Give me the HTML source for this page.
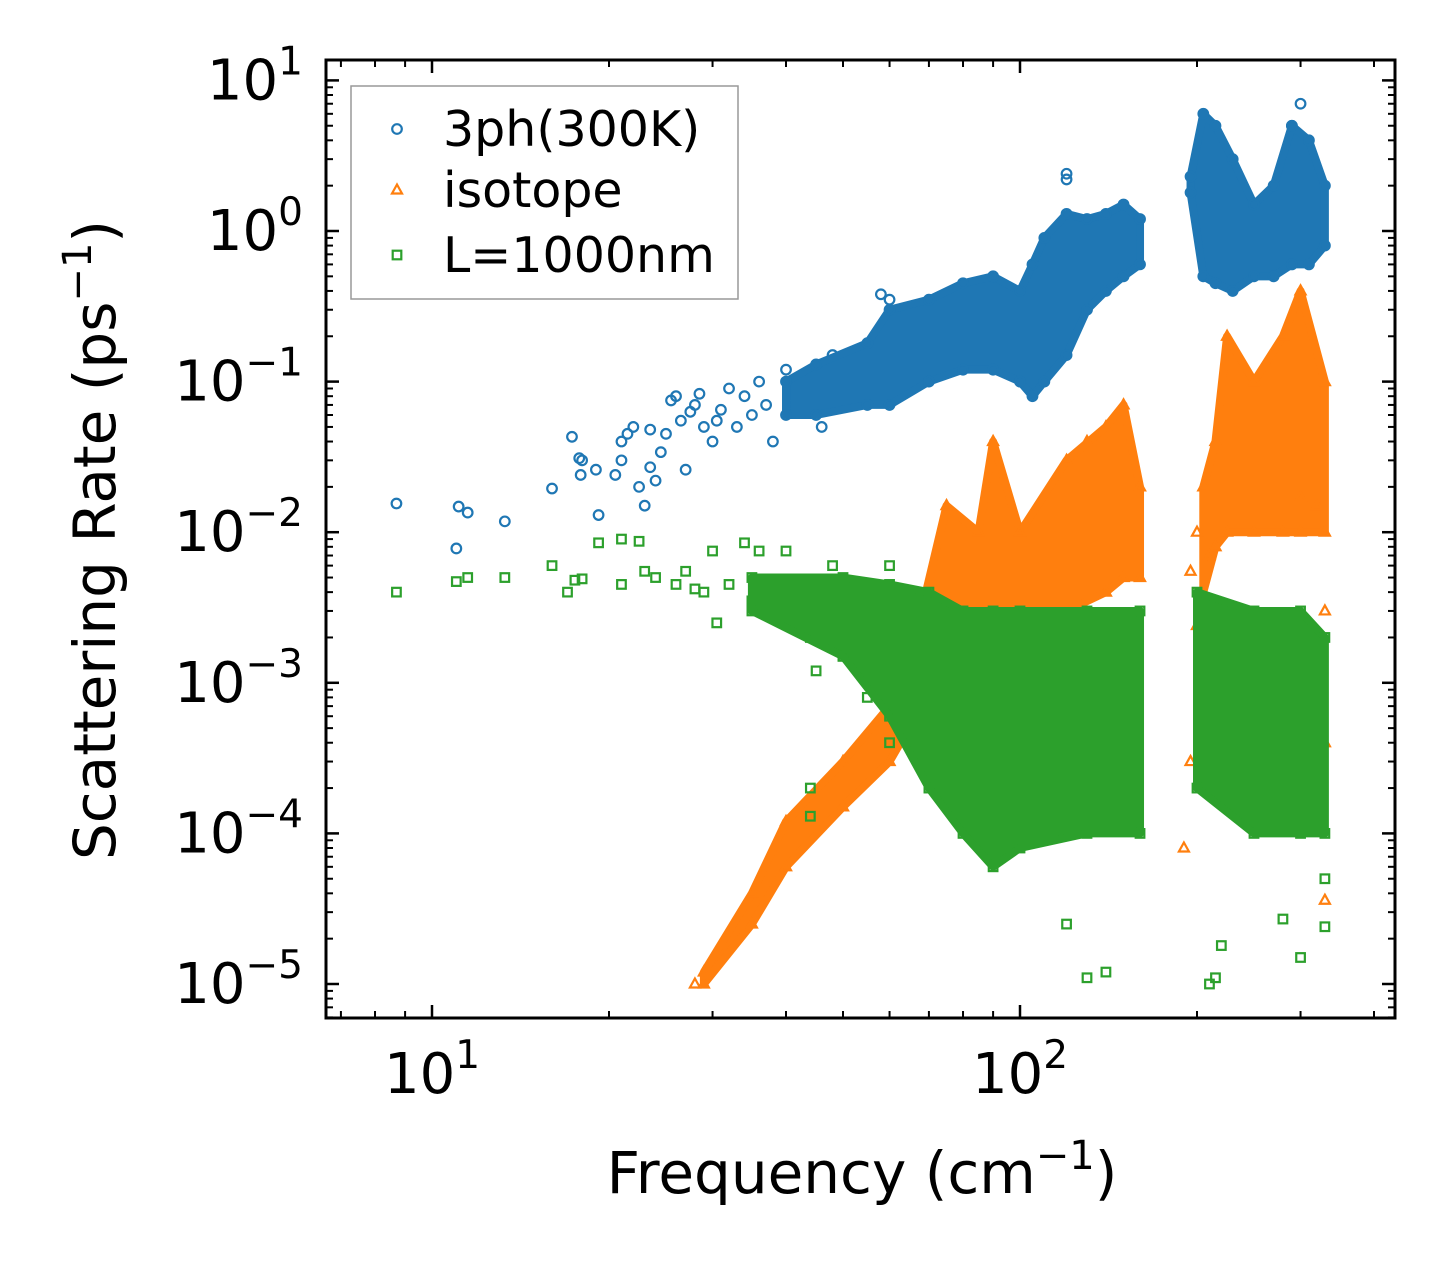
<!DOCTYPE html>
<html><head><meta charset="utf-8"><style>
html,body{margin:0;padding:0;background:#fff;}
svg{display:block;font-family:"DejaVu Sans","Liberation Sans",sans-serif;}
</style></head><body>
<svg id="chart" width="1455" height="1267" viewBox="0 0 1455 1267"></svg>
<script>
// ---- data ----
const blueSparse = [[8.7,0.0155],[11,0.0078],[11.1,0.0148],[11.5,0.0135],[13.3,0.0118],[16,0.0195],[17.3,0.043],[17.8,0.031],[17.9,0.024],[18,0.03],[19,0.026],[19.2,0.013],[20.5,0.024],[21,0.03],[21,0.04],[21.5,0.045],[22,0.05],[22.5,0.02],[23,0.015],[23.5,0.027],[23.5,0.048],[24,0.022],[24.5,0.034],[25,0.045],[25.5,0.075],[26,0.08],[26.5,0.055],[27,0.026],[27.5,0.063],[28,0.07],[28.5,0.083],[29,0.05],[30,0.04],[30.5,0.055],[31,0.065],[32,0.09],[33,0.05],[34,0.08],[35,0.06],[36,0.1],[37,0.07],[38,0.04],[40,0.12],[42,0.08],[44,0.065],[46,0.05],[48,0.15],[58,0.38],[60,0.35],[120,2.4],[120,2.2],[300,7],[290,5]];
const blueBandA = [[40,0.06,0.1],[45,0.06,0.13],[55,0.07,0.18],[60,0.07,0.3],[70,0.1,0.35],[80,0.12,0.45],[90,0.12,0.5],[100,0.1,0.4],[105,0.08,0.6],[110,0.1,0.9],[120,0.15,1.3],[130,0.3,1.2],[140,0.4,1.3],[150,0.5,1.5],[160,0.6,1.2]];
const blueBandB = [[195,1.8,2.3],[205,0.5,6],[215,0.45,5],[230,0.4,3],[250,0.5,1.5],[270,0.5,2],[290,0.6,5],[310,0.6,4],[330,0.8,2]];
const orangeSparse = [[28,1e-5],[190,8e-5],[195,3e-4],[200,2.4e-3],[195,5.5e-3],[200,1e-2],[210,7e-3],[330,3.6e-5],[330,4e-4],[330,3e-3],[320,1.5e-2],[300,1.7e-2],[130,4e-2]];
const orangeBandA = [[29,1e-5,1.2e-5],[35,2.5e-5,4e-5],[40,6e-5,1.2e-4],[50,1.5e-4,3e-4],[60,3e-4,7e-4],[68,7e-4,3e-3],[75,1.5e-3,1.5e-2],[85,2e-3,1e-2],[90,2e-3,4e-2],[100,3e-3,1e-2],[120,3e-3,3e-2],[140,4e-3,5e-2],[150,5e-3,7e-2],[160,5e-3,2e-2]];
const orangeBandB = [[205,4e-3,2e-2],[215,8e-3,4e-2],[225,1e-2,2e-1],[250,1e-2,1e-1],[280,1e-2,2e-1],[300,1e-2,4e-1],[330,1e-2,1e-1]];
const greenSparse = [[8.7,4e-3],[11,4.7e-3],[11.5,5e-3],[13.3,5e-3],[16,6e-3],[17,4e-3],[17.5,4.8e-3],[18,4.9e-3],[19.2,8.5e-3],[21,9e-3],[21,4.5e-3],[22.5,8.7e-3],[23,5.5e-3],[24,5e-3],[26,4.5e-3],[27,5.5e-3],[28,4.2e-3],[29,4e-3],[30,7.5e-3],[30.5,2.5e-3],[32,4.5e-3],[34,8.5e-3],[35,3.5e-3],[36,7.5e-3],[38,4.5e-3],[40,7.5e-3],[42,3e-3],[44,2e-3],[45,1.2e-3],[48,6e-3],[50,1.5e-3],[55,8e-4],[56,1.2e-3],[44,2e-4],[44,1.3e-4],[60,6e-3],[60,4e-4],[130,1.1e-5],[140,1.2e-5],[210,1e-5],[215,1.1e-5],[220,1.8e-5],[300,1.5e-5],[280,2.7e-5],[330,2.4e-5],[330,5e-5],[120,2.5e-5]];
const greenBandA = [[35,3e-3,5e-3],[50,1.5e-3,5e-3],[60,6e-4,4.5e-3],[70,2e-4,4e-3],[80,1e-4,3e-3],[90,6e-5,3e-3],[100,8e-5,3e-3],[130,1e-4,3e-3],[160,1e-4,3e-3]];
const greenBandB = [[200,2e-4,4e-3],[250,1e-4,3e-3],[300,1e-4,3e-3],[330,1e-4,2e-3]];
const xTickLabels = [{v:10,e:'1'},{v:100,e:'2'}];
const yTickExps = [1,0,-1,-2,-3,-4,-5];
// ---- axes ----
const L=326,R=1395,T=60,B=1018;
const X0=432, XD=588;
const Y0=231, YD=150.6;
const xs=v=>X0+(Math.log10(v)-1)*XD;
const ys=v=>Y0-Math.log10(v)*YD;
const NS='http://www.w3.org/2000/svg';
const svg=document.getElementById('chart');
function mk(tag,attrs,parent){const e=document.createElementNS(NS,tag);for(const k in attrs)e.setAttribute(k,attrs[k]);(parent||svg).appendChild(e);return e;}
const colors={blue:'#1f77b4',orange:'#ff7f0e',green:'#2ca02c'};
const clip=mk('clipPath',{id:'pc'});mk('rect',{x:L,y:T,width:R-L,height:B-T},clip);
const plot=mk('g',{'clip-path':'url(#pc)'});


function marker(kind,x,y,g){
  const c=colors[kind];
  if(kind==='blue') return mk('circle',{cx:x,cy:y,r:4.8,fill:'none',stroke:c,'stroke-width':2.2},g);
  if(kind==='orange') return mk('path',{d:`M${x},${y-5.5}L${x+5},${y+3.5}L${x-5},${y+3.5}Z`,fill:'none',stroke:c,'stroke-width':2.2},g);
  return mk('rect',{x:x-4.3,y:y-4.3,width:8.6,height:8.6,fill:'none',stroke:c,'stroke-width':2.2},g);
}
function band(kind,arr,name){
  const g=mk('g',{},plot);
  
  
  let d='';
  arr.forEach((p,i)=>{d+=(i?'L':'M')+xs(p[0])+','+ys(p[2]);});
  for(let i=arr.length-1;i>=0;i--)d+='L'+xs(arr[i][0])+','+ys(arr[i][1]);
  mk('path',{d:d+'Z',fill:colors[kind],stroke:colors[kind],'stroke-width':8,'stroke-linejoin':'round'},g);
  arr.forEach(p=>{marker(kind,xs(p[0]),ys(p[1]),g);marker(kind,xs(p[0]),ys(p[2]),g);});
}
function scatter(kind,arr,name){
  const g=mk('g',{},plot);
  
  
  arr.forEach(p=>marker(kind,xs(p[0]),ys(p[1]),g));
}
scatter('blue',blueSparse,'3ph-sparse-points');
band('blue',blueBandA,'3ph-dense-low');
band('blue',blueBandB,'3ph-dense-high');
band('orange',orangeBandA,'isotope-dense-low');
band('orange',orangeBandB,'isotope-dense-high');
scatter('orange',orangeSparse,'isotope-sparse-points');
scatter('green',greenSparse,'boundary-sparse-points');
band('green',greenBandA,'boundary-dense-low');
band('green',greenBandB,'boundary-dense-high');
const fr=mk('rect',{x:L,y:T,width:R-L,height:B-T,fill:'none',stroke:'#000','stroke-width':3});


const tg=mk('g',{stroke:'#000'});


for(let e=0;e<=2;e++)for(let m=1;m<=9;m++){
  const v=m*Math.pow(10,e),x=xs(v); if(x<L||x>R)continue;
  const len=m===1?13:7,w=m===1?2.5:2;
  mk('line',{x1:x,y1:B,x2:x,y2:B-len,'stroke-width':w},tg);
  mk('line',{x1:x,y1:T,x2:x,y2:T+len,'stroke-width':w},tg);
}
for(let e=-6;e<=1;e++)for(let m=1;m<=9;m++){
  const v=m*Math.pow(10,e),y=ys(v); if(y<T||y>B)continue;
  const len=m===1?13:7,w=m===1?2.5:2;
  mk('line',{x1:L,y1:y,x2:L+len,y2:y,'stroke-width':w},tg);
  mk('line',{x1:R,y1:y,x2:R-len,y2:y,'stroke-width':w},tg);
}
xTickLabels.forEach(t=>{
  const tx=mk('text',{x:xs(t.v),y:1093,'text-anchor':'middle','font-size':56});
  
  
  tx.innerHTML='10<tspan dy="-25" font-size="39">'+t.e+'</tspan>';
});
yTickExps.forEach(e=>{
  const tx=mk('text',{x:e<0?303:303,y:ys(Math.pow(10,e))+19,'text-anchor':'end','font-size':56});
  
  
  tx.innerHTML='10<tspan dy="-25" font-size="39">'+(e<0?'\u2212'+(-e):e)+'</tspan>';
});
const xt=mk('text',{x:862,y:1193,'text-anchor':'middle','font-size':58});


xt.innerHTML='Frequency (cm<tspan dy="-24" font-size="40">\u22121</tspan><tspan dy="24">)</tspan>';
const yt=mk('text',{x:0,y:0,'text-anchor':'middle','font-size':58,transform:'translate(115,540) rotate(-90)'});


yt.innerHTML='Scattering Rate (ps<tspan dy="-24" font-size="40">\u22121</tspan><tspan dy="24">)</tspan>';
const lg=mk('g',{});


mk('rect',{x:351,y:86,width:387,height:213,fill:'#fff','fill-opacity':0.8,stroke:'#999','stroke-width':1.5},lg);
const entries=[['blue','3ph(300K)',129],['orange','isotope',190],['green','L=1000nm',255]];
entries.forEach(en=>{
  const eg=mk('g',{},lg);
  
  
  marker(en[0],397,en[2],eg);
  mk('text',{x:443,y:en[2]+17,'font-size':49},eg).textContent=en[1];
});
</script>
</body></html>
